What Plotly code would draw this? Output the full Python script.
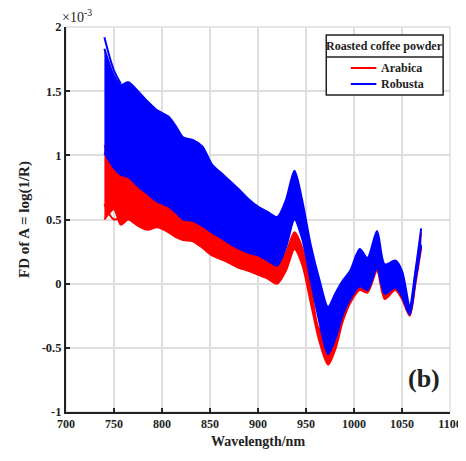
import plotly.graph_objects as go

# Wavelength grid (nm)
wavelength = [740, 750, 757, 765, 775, 785, 795, 807, 815, 822, 832, 842, 852, 865, 878,
              890, 900, 910, 920, 929, 938, 946, 955, 964, 973, 981, 988, 996, 1006, 1014,
              1024, 1032, 1043, 1050, 1058, 1064, 1070]

# Robusta (blue) envelope, units of 1e-3
robusta_top = [1.83, 1.62, 1.55, 1.57, 1.50, 1.42, 1.35, 1.30, 1.22, 1.14, 1.12, 1.07, 0.93, 0.84, 0.75,
               0.66, 0.60, 0.56, 0.52, 0.65, 0.88, 0.65, 0.30, 0.03, -0.18, -0.07, 0.02, 0.10, 0.27, 0.20,
               0.41, 0.15, 0.18, 0.10, -0.17, 0.10, 0.43]
robusta_bottom = [1.02, 0.90, 0.85, 0.83, 0.76, 0.70, 0.64, 0.60, 0.55, 0.50, 0.49, 0.45, 0.40, 0.34, 0.28,
                  0.24, 0.22, 0.18, 0.14, 0.28, 0.50, 0.35, 0.02, -0.30, -0.55, -0.42, -0.25, -0.12, -0.02, -0.05,
                  0.12, -0.08, -0.03, -0.10, -0.24, 0.02, 0.30]

# Arabica (red) envelope, units of 1e-3
arabica_top = [1.08, 0.95, 0.88, 0.90, 0.82, 0.77, 0.74, 0.70, 0.63, 0.60, 0.58, 0.53, 0.48, 0.45, 0.42,
               0.33, 0.26, 0.20, 0.16, 0.24, 0.40, 0.28, -0.02, -0.35, -0.30, -0.25, -0.18, -0.08, 0.05, 0.03,
               0.17, -0.02, 0.03, -0.02, -0.20, 0.08, 0.40]
arabica_bottom = [0.50, 0.58, 0.46, 0.50, 0.45, 0.42, 0.44, 0.40, 0.36, 0.34, 0.33, 0.28, 0.22, 0.18, 0.13,
                  0.10, 0.07, 0.04, 0.00, 0.10, 0.27, 0.15, -0.15, -0.45, -0.63, -0.50, -0.30, -0.15, -0.05, -0.07,
                  0.10, -0.12, -0.05, -0.12, -0.25, 0.00, 0.28]

# A few individual spectra visible at the start
robusta_outlier_wl = [740, 750, 757]
robusta_outlier = [1.92, 1.66, 1.56]
arabica_cross_wl = [740, 750, 757, 765]
arabica_cross = [0.62, 0.50, 0.52, 0.55]

x_ticks = [700, 750, 800, 850, 900, 950, 1000, 1050, 1100]
y_ticks = [-1, -0.5, 0, 0.5, 1, 1.5, 2]
y_ticktext = ["-1", "-0.5", "0", "0.5", "1", "1.5", "2"]

RED = "#ff0000"
BLUE = "#0000ff"
INK = "#222222"
FONT = "Liberation Serif"

fig = go.Figure()

def band(xs, lo, hi, color, name):
    fig.add_trace(go.Scatter(x=xs, y=lo, mode="lines", line=dict(color=color, width=2, shape="spline", smoothing=0.8),
                             showlegend=False, hoverinfo="skip", name=name))
    fig.add_trace(go.Scatter(x=xs, y=hi, mode="lines", line=dict(color=color, width=2, shape="spline", smoothing=0.8),
                             fill="tonexty", fillcolor=color, showlegend=False, name=name))

band(wavelength, arabica_bottom, arabica_top, RED, "Arabica")
fig.add_trace(go.Scatter(x=arabica_cross_wl, y=arabica_cross, mode="lines",
                         line=dict(color=RED, width=2, shape="spline"), showlegend=False))
band(wavelength, robusta_bottom, robusta_top, BLUE, "Robusta")
fig.add_trace(go.Scatter(x=robusta_outlier_wl, y=robusta_outlier, mode="lines",
                         line=dict(color=BLUE, width=2, shape="spline"), showlegend=False))

axis_common = dict(showline=True, linecolor=INK, linewidth=2, mirror=False,
                   showgrid=True, gridcolor="#dedede", gridwidth=1.5, zeroline=False,
                   ticks="inside", ticklen=4, tickcolor=INK, tickwidth=1.5)

fig.update_xaxes(range=[700, 1100], tickvals=x_ticks, ticktext=["<b>%d</b>" % v for v in x_ticks],
                 ticklabeloverflow="allow", tickfont=dict(family=FONT, size=12, color=INK),
                 title=dict(text="<b>Wavelength/nm</b>", font=dict(family=FONT, size=14, color=INK),
                            standoff=6), **axis_common)
fig.update_yaxes(range=[-1, 2], tickvals=y_ticks, ticktext=["<b>%s</b>" % t for t in y_ticktext],
                 tickfont=dict(family=FONT, size=12.5, color=INK),
                 title=dict(text="<b>FD of A = log(1/R)</b>", font=dict(family=FONT, size=15, color=INK),
                            standoff=8), **axis_common)

# outer light-gray frame (top/right grid edges)
fig.add_shape(type="rect", xref="paper", yref="paper", x0=0, x1=1, y0=0, y1=1,
              line=dict(color="#dedede", width=1.5), layer="below")

# Manual legend (positions in screen pixels of the reference)
PL, PT, PW, PH = 58, 27, 391, 385

def px_x(p):
    return (p - PL) / PW

def px_y(p):
    return (PT + PH - p) / PH

lx0, lx1, ly0, ly1, lsep = px_x(323), px_x(442), px_y(35), px_y(95), px_y(57)
fig.add_shape(type="rect", xref="paper", yref="paper", x0=lx0, x1=lx1, y0=ly1, y1=ly0,
              line=dict(color=INK, width=1.5), fillcolor="white")
fig.add_shape(type="line", xref="paper", yref="paper", x0=lx0, x1=lx1, y0=lsep, y1=lsep,
              line=dict(color=INK, width=1.5))
fig.add_annotation(xref="paper", yref="paper", x=(lx0 + lx1) / 2, y=px_y(46), text="<b>Roasted coffee powder</b>",
                   showarrow=False, font=dict(family=FONT, size=12, color=INK),
                   xanchor="center", yanchor="middle")
for name, color, py in [("Arabica", RED, 68), ("Robusta", BLUE, 84)]:
    fig.add_shape(type="line", xref="paper", yref="paper", x0=px_x(348), x1=px_x(374), y0=px_y(py), y1=px_y(py),
                  line=dict(color=color, width=2))
    fig.add_annotation(xref="paper", yref="paper", x=px_x(377), y=px_y(py), text="<b>%s</b>" % name, showarrow=False,
                       font=dict(family=FONT, size=12, color=INK),
                       xanchor="left", yanchor="middle")

fig.add_annotation(xref="paper", yref="paper", x=0, y=1, text="×10<sup>-3</sup>", showarrow=False,
                   xanchor="left", yanchor="bottom", xshift=-6, yshift=0,
                   font=dict(family=FONT, size=14, color=INK))
fig.add_annotation(x=1073, y=-0.74, text="<b>(b)</b>", showarrow=False, xanchor="center", yanchor="middle",
                   font=dict(family=FONT, size=26, color=INK))

# the page puts the figure 8px down: shrink the figure height so the plot area lands on the reference's pixels
OFF_Y = 8
fig.update_layout(width=466, height=461 - OFF_Y,
                  margin=dict(l=PL, r=466 - PL - PW, t=PT - OFF_Y, b=461 - OFF_Y - (PT - OFF_Y) - PH),
                  paper_bgcolor="white", plot_bgcolor="white", showlegend=False)

fig.write_html("out.html")
